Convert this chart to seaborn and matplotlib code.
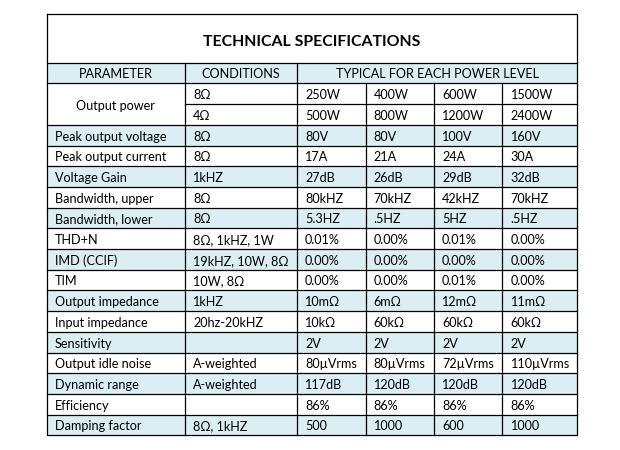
import numpy as np
import seaborn as sns
import matplotlib.pyplot as plt
from matplotlib.colors import ListedColormap

# Table content
title = "TECHNICAL SPECIFICATIONS"
headers = ["PARAMETER", "CONDITIONS", "TYPICAL FOR EACH POWER LEVEL"]
parameters = ["Output power", "", "Peak output voltage", "Peak output current",
              "Voltage Gain", "Bandwidth, upper", "Bandwidth, lower", "THD+N",
              "IMD (CCIF)", "TIM", "Output impedance", "Input impedance",
              "Sensitivity", "Output idle noise", "Dynamic range", "Efficiency",
              "Damping factor"]
conditions = ["8Ω", "4Ω", "8Ω", "8Ω", "1kHZ", "8Ω", "8Ω", "8Ω, 1kHZ, 1W",
              "19kHZ, 10W, 8Ω", "10W, 8Ω", "1kHZ", "20hz-20kHZ", "",
              "A-weighted", "A-weighted", "", "8Ω, 1kHZ"]
level_1 = ["250W", "500W", "80V", "17A", "27dB", "80kHZ", "5.3HZ", "0.01%",
           "0.00%", "0.00%", "10mΩ", "10kΩ", "2V", "80µVrms", "117dB", "86%", "500"]
level_2 = ["400W", "800W", "80V", "21A", "26dB", "70kHZ", ".5HZ", "0.00%",
           "0.00%", "0.00%", "6mΩ", "60kΩ", "2V", "80µVrms", "120dB", "86%", "1000"]
level_3 = ["600W", "1200W", "100V", "24A", "29dB", "42kHZ", "5HZ", "0.01%",
           "0.00%", "0.01%", "12mΩ", "60kΩ", "2V", "72µVrms", "120dB", "86%", "600"]
level_4 = ["1500W", "2400W", "160V", "30A", "32dB", "70kHZ", ".5HZ", "0.00%",
           "0.00%", "0.00%", "11mΩ", "60kΩ", "2V", "110µVrms", "120dB", "86%", "1000"]

# 1 = shaded row (header + alternating rows)
row_fill = [1, 0, 0, 1, 0, 1, 0, 1, 0, 1, 0, 1, 0, 1, 0, 1, 0, 1]

BLUE = "#DAEEF3"
FONT = "Lato"
FS = 9.1

# column edges as fraction of table width
col_edges = [0.0, 0.2608, 0.472, 0.6015, 0.7303, 0.8595, 1.0]
title_h = 48.7 / 20.7   # title block height in row units
n_rows = len(row_fill)
pad = 8 / 530.3
base_off = 0.24

fig = plt.figure(figsize=(6.2, 4.5), dpi=100)
ax = fig.add_axes([46.7 / 620, 1 - 435.3 / 450, 530.3 / 620, (435.3 - 14) / 450])

fill = np.array(row_fill).reshape(-1, 1)
sns.heatmap(fill, cmap=ListedColormap(["white", BLUE]), vmin=0, vmax=1,
            cbar=False, xticklabels=False, yticklabels=False, ax=ax)
ax.set_xlim(0, 1)
ax.set_ylim(n_rows, -title_h)
for s in ax.spines.values():
    s.set_visible(False)

lw = 0.9
kw = dict(color="black", lw=lw, clip_on=False, solid_capstyle="projecting")
# outer box
ax.plot([0, 1, 1, 0, 0], [-title_h, -title_h, n_rows, n_rows, -title_h], **kw)
# horizontal rules
for y in range(0, n_rows):
    if y == 2:
        ax.plot([col_edges[1], 1], [y, y], **kw)
    else:
        ax.plot([0, 1], [y, y], **kw)
# vertical rules
for j, x in enumerate(col_edges[1:-1], start=1):
    y0 = 0 if j <= 2 else 1
    ax.plot([x, x], [y0, n_rows], **kw)

# title
ax.text(0.5, -0.807, title, ha="center", va="baseline", fontsize=11.4,
        fontweight="bold", family=FONT)

# header row
hdr_x = [(col_edges[0] + col_edges[1]) / 2, (col_edges[1] + col_edges[2]) / 2,
         (col_edges[2] + col_edges[6]) / 2]
for x, h in zip(hdr_x, headers):
    ax.text(x, 1 - base_off, h, ha="center", va="baseline", fontsize=FS, family=FONT)

# body
columns = [conditions, level_1, level_2, level_3, level_4]
for i in range(len(parameters)):
    yb = i + 2 - base_off
    if i == 0:
        ax.text(hdr_x[0], 2.285, parameters[0], ha="center", va="baseline",
                fontsize=FS, family=FONT)
    elif parameters[i]:
        ax.text(col_edges[0] + pad, yb, parameters[i], ha="left", va="baseline",
                fontsize=FS, family=FONT)
    for j, col in enumerate(columns, start=1):
        if col[i]:
            ax.text(col_edges[j] + pad, yb, col[i], ha="left", va="baseline",
                    fontsize=FS, family=FONT)

fig.savefig("out.png", dpi=100)
